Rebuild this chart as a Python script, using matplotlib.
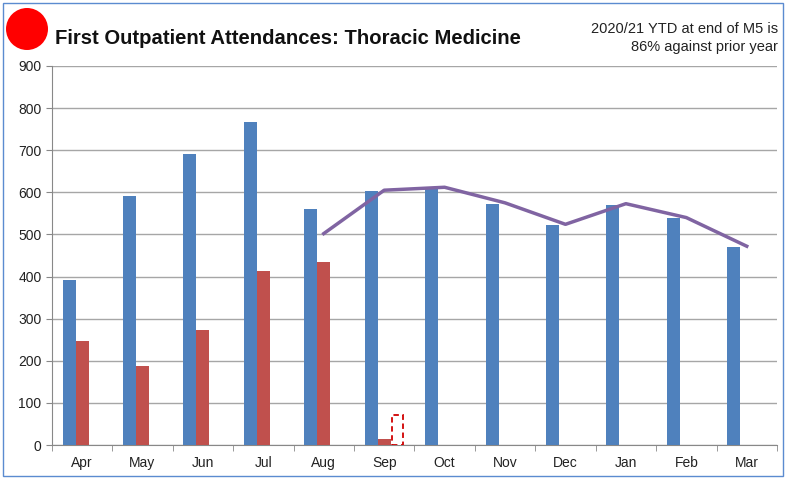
import matplotlib
matplotlib.use("Agg")
from matplotlib import pyplot as plt
from matplotlib.patches import Rectangle, Ellipse
import numpy as np

months = ['Apr', 'May', 'Jun', 'Jul', 'Aug', 'Sep', 'Oct', 'Nov', 'Dec', 'Jan', 'Feb', 'Mar']
prior_year = [392, 591, 692, 768, 560, 604, 610, 572, 522, 571, 538, 471]
this_year = [247, 188, 273, 413, 434, 14]
projected = [None, None, None, None, None, 71]
plan_months = ['Aug', 'Sep', 'Oct', 'Nov', 'Dec', 'Jan', 'Feb', 'Mar']
plan = [502, 605, 612, 575, 524, 573, 540, 472]

plt.rcParams['font.family'] = ['Liberation Sans Narrow', 'Liberation Sans', 'DejaVu Sans']

fig = plt.figure(figsize=(7.86, 4.78), dpi=100)
ax = fig.add_axes([0.0659, 0.069, 0.9226, 0.793])

x = np.arange(len(months))
w = 0.215
ax.bar(x - w, prior_year, w, color='#4F81BD', zorder=3)
ax.bar(x[:len(this_year)], this_year, w, color='#C0504D', zorder=3)
for i, v in enumerate(projected):
    if v is not None:
        ax.bar(x[i] + w, v, w * 0.85, facecolor='white', edgecolor='#D00000',
               linestyle=(0, (3, 2)), linewidth=1.3, zorder=3)
px = [months.index(m) for m in plan_months]
ax.plot(px, plan, color='#8064A2', linewidth=2.5, zorder=4)

ax.set_xlim(-0.5, len(months) - 0.5)
ax.set_ylim(0, 900)
ax.set_yticks(range(0, 901, 100))
ax.set_xticks(x)
ax.set_xticklabels(months)
ax.set_xticks(np.arange(-0.5, len(months), 1), minor=True)
ax.tick_params(axis='x', which='major', length=0, pad=8, labelsize=10, colors='#222222')
ax.tick_params(axis='x', which='minor', length=4, color='#888888')
ax.tick_params(axis='y', length=4, color='#888888', labelsize=10, labelcolor='#222222')
ax.grid(axis='y', color='#A6A6A6', linewidth=1, zorder=0)
for s in ['top', 'right']:
    ax.spines[s].set_visible(False)
for s in ['left', 'bottom']:
    ax.spines[s].set_color('#888888')

fig.patches.append(Rectangle((0.004, 0.004), 0.992, 0.99, transform=fig.transFigure,
                             fill=False, edgecolor='#5B8BD0', linewidth=1))
fig.patches.append(Ellipse((27 / 786, 1 - 29 / 478), 42 / 786, 42 / 478,
                           transform=fig.transFigure, facecolor='red', edgecolor='none'))
fig.text(55 / 786, 1 - 38 / 478, 'First Outpatient Attendances: Thoracic Medicine',
         fontsize=14.6, fontweight='bold', va='center', ha='left', color='#111111')
fig.text(778 / 786, 1 - 38 / 478, '2020/21 YTD at end of M5 is\n86% against prior year',
         fontsize=10.5, va='center', ha='right', multialignment='right', color='#222222',
         linespacing=1.35)

fig.savefig('out.png', dpi=100)
